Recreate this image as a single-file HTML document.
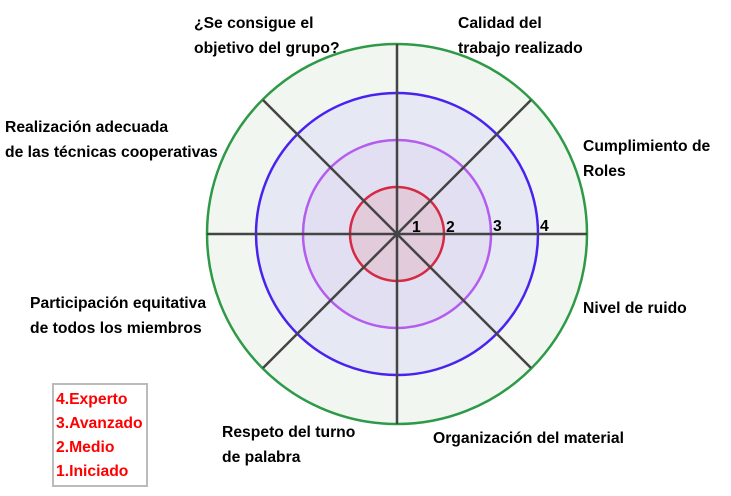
<!DOCTYPE html>
<html><head><meta charset="utf-8"><style>
body{margin:0;background:#fff;width:731px;height:491px;overflow:hidden}
svg text{font-family:"Liberation Sans",sans-serif;font-weight:bold;font-size:15.7px;fill:#000}
</style></head><body>
<svg width="731" height="491" viewBox="0 0 731 491">
<circle cx="397" cy="234" r="190" fill="#f1f7f0" stroke="#2e9a48" stroke-width="2.5"/>
<circle cx="397" cy="234" r="141" fill="#e6e9f4" stroke="#4a22f0" stroke-width="2.5"/>
<circle cx="397" cy="234" r="94" fill="#e3dff2" stroke="#b45cf0" stroke-width="2.5"/>
<circle cx="397" cy="234" r="47" fill="#e2cbdb" stroke="#d42a44" stroke-width="2.5"/>
<g stroke="#444" stroke-width="2.5">
<line x1="207" y1="234" x2="587" y2="234"/>
<line x1="397" y1="44" x2="397" y2="424"/>
<line x1="263" y1="100" x2="531" y2="368"/>
<line x1="531" y1="100" x2="263" y2="368"/>
</g>
<text x="412" y="232">1</text>
<text x="446" y="232">2</text>
<text x="493" y="231">3</text>
<text x="540" y="231">4</text>
<text x="194" y="28">¿Se consigue el</text>
<text x="194" y="53">objetivo del grupo?</text>
<text x="458" y="28">Calidad del</text>
<text x="458" y="53">trabajo realizado</text>
<text x="5" y="132">Realización adecuada</text>
<text x="5" y="157">de las técnicas cooperativas</text>
<text x="583" y="151">Cumplimiento de</text>
<text x="583" y="176">Roles</text>
<text x="30" y="308">Participación equitativa</text>
<text x="30" y="333">de todos los miembros</text>
<text x="583" y="313">Nivel de ruido</text>
<text x="222" y="437">Respeto del turno</text>
<text x="222" y="462">de palabra</text>
<text x="433" y="443">Organización del material</text>
<rect x="53" y="384" width="94" height="102" fill="#fff" stroke="#bbb" stroke-width="2"/>
<text x="56" y="404" style="fill:#f00">4.Experto</text>
<text x="56" y="428" style="fill:#f00">3.Avanzado</text>
<text x="56" y="452" style="fill:#f00">2.Medio</text>
<text x="56" y="476" style="fill:#f00">1.Iniciado</text>
</svg>
</body></html>
